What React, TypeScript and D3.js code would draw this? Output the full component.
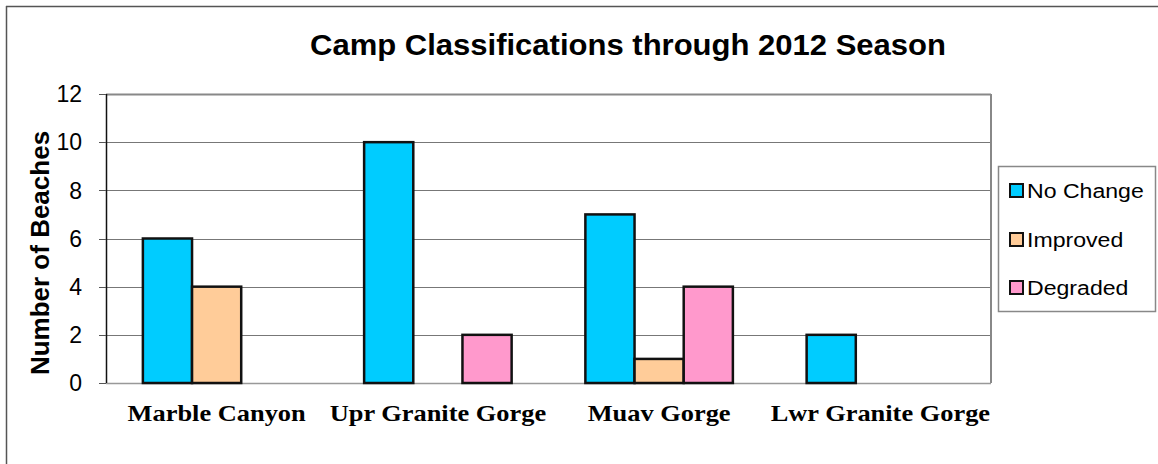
import React from "react";
import * as d3 from "d3";

const categories = ["Marble Canyon", "Upr Granite Gorge", "Muav Gorge", "Lwr Granite Gorge"];
const seriesNames = ["No Change", "Improved", "Degraded"];
const noChange = [6, 10, 7, 2];
const improved = [4, 0, 1, 0];
const degraded = [0, 2, 4, 0];
const yTicks = [0, 2, 4, 6, 8, 10, 12];
const colors = ["#00CCFF", "#FFCC99", "#FF99CC"];
const title = "Camp Classifications through 2012 Season";
const yTitle = "Number of Beaches";

const W = 1158;
const H = 464;
const plot = { left: 106, right: 991, top: 94, bottom: 383 };

export default function App() {
  const values = [noChange, improved, degraded];
  const x = d3.scaleBand<string>().domain(categories).range([plot.left, plot.right]).paddingInner(0).paddingOuter(0);
  const xs = d3.scaleBand<string>().domain(seriesNames).range([0, x.bandwidth()]).paddingInner(0).paddingOuter(0.75);
  const y = d3.scaleLinear().domain([0, 12]).range([plot.bottom, plot.top]);
  const sans = "'Liberation Sans', Arial, sans-serif";
  const serif = "'Liberation Serif', 'Times New Roman', serif";
  const sx = 1.1;

  const legendItemsY = [190, 239, 287];

  return (
    <svg width={W} height={H} style={{ position: "absolute", left: 0, top: 0, background: "#fff" }}>
      <rect x={0} y={0} width={W} height={H} fill="#fff" />
      {/* outer frame */}
      <line x1={6} y1={6.5} x2={W} y2={6.5} stroke="#555" strokeWidth={1.5} />
      <line x1={6.5} y1={6} x2={6.5} y2={H} stroke="#555" strokeWidth={1.5} />

      {/* title */}
      <text transform={`translate(628,55) scale(1.07,1)`} textAnchor="middle" fontFamily={sans} fontWeight="bold" fontSize={29}>
        {title}
      </text>

      {/* gridlines */}
      {yTicks.map((t) => (
        <line key={"g" + t} x1={plot.left} x2={plot.right} y1={Math.round(y(t)) + 0.5} y2={Math.round(y(t)) + 0.5} stroke={t === 12 ? "#888" : "#777"} strokeWidth={t === 12 ? 2 : 1} />
      ))}
      {/* right border */}
      <line x1={plot.right} x2={plot.right} y1={plot.top} y2={plot.bottom} stroke="#888" strokeWidth={2} />
      {/* bottom axis */}
      <line x1={plot.left} x2={plot.right} y1={plot.bottom + 0.5} y2={plot.bottom + 0.5} stroke="#999" strokeWidth={1.5} />

      {/* bars */}
      {categories.map((c, i) => (
        <g key={c}>
          {seriesNames.map((s, j) => {
            const v = values[j][i];
            if (!v) return null;
            const bx = (x(c) as number) + (xs(s) as number);
            return (
              <rect key={s} x={bx} y={y(v)} width={xs.bandwidth()} height={y(0) - y(v)} fill={colors[j]} stroke="#111" strokeWidth={2.5} />
            );
          })}
        </g>
      ))}

      {/* y axis */}
      <line x1={plot.left + 0.5} x2={plot.left + 0.5} y1={plot.top} y2={plot.bottom} stroke="#111" strokeWidth={1.5} />
      {yTicks.map((t) => (
        <g key={"t" + t}>
          <line x1={99} x2={plot.left} y1={Math.round(y(t)) + 0.5} y2={Math.round(y(t)) + 0.5} stroke="#555" strokeWidth={1} />
          <text x={82} y={y(t)} dy="0.36em" textAnchor="end" fontFamily={sans} fontSize={23}>
            {t}
          </text>
        </g>
      ))}

      {/* y title */}
      <text transform={`translate(49,253) rotate(-90)`} textAnchor="middle" fontFamily={sans} fontWeight="bold" fontSize={26}>
        {yTitle}
      </text>

      {/* x labels */}
      {categories.map((c) => (
        <text key={"x" + c} transform={`translate(${(x(c) as number) + x.bandwidth() / 2},421) scale(${sx},1)`} textAnchor="middle" fontFamily={serif} fontWeight="bold" fontSize={24}>
          {c}
        </text>
      ))}

      {/* legend */}
      <rect x={998.5} y={166.5} width={157} height={145} fill="#fff" stroke="#888" strokeWidth={1.5} />
      {seriesNames.map((s, j) => (
        <g key={"l" + s}>
          <rect x={1010} y={legendItemsY[j] - 6} width={13} height={13} fill={colors[j]} stroke="#111" strokeWidth={2} />
          <text transform={`translate(1027,${legendItemsY[j]}) scale(${sx},1)`} dy="0.36em" fontFamily={sans} fontSize={21}>
            {s}
          </text>
        </g>
      ))}
    </svg>
  );
}
